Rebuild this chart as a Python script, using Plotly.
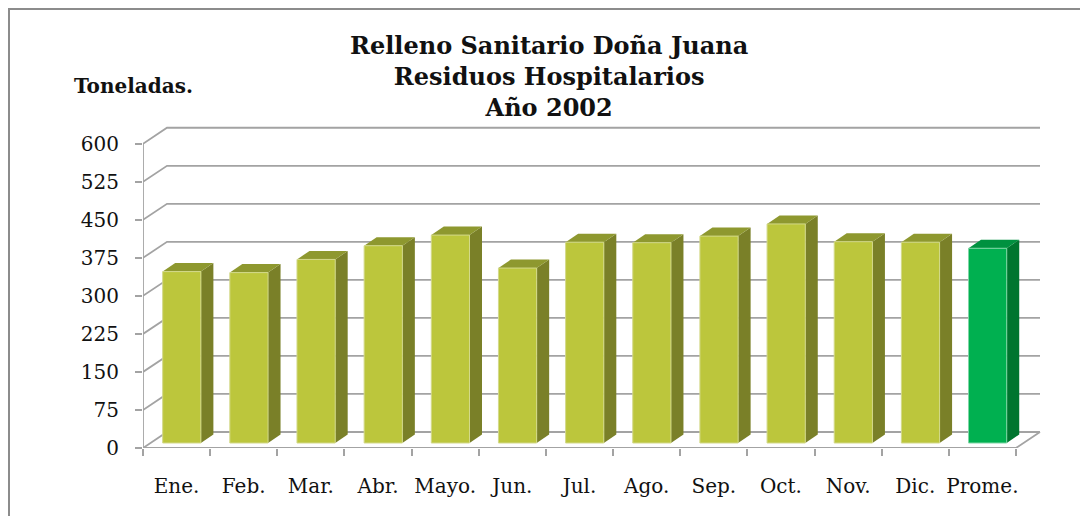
import plotly.graph_objects as go

# ---------------- data ----------------
categories = ["Ene.", "Feb.", "Mar.", "Abr.", "Mayo.", "Jun.", "Jul.",
              "Ago.", "Sep.", "Oct.", "Nov.", "Dic.", "Prome."]
values = [338, 336, 362, 389, 410, 345, 396, 395, 408, 432, 397, 396, 384]
y_ticks = [0, 75, 150, 225, 300, 375, 450, 525, 600]
title_lines = ["Relleno Sanitario Doña Juana", "Residuos Hospitalarios", "Año 2002"]
y_title = "Toneladas."

# ---------------- styles / geometry (3-D look) ----------------
OFF = 8                                        # page body margin
W, H = 1088 - OFF, 516 - OFF
PL, PR_PX, PT, PB = 143 - OFF, 1041 - OFF, 126 - OFF, 448 - OFF
N = len(categories)
YMAX = 635.0
CW = (1016 - 143) / N                          # px per category
PY = (PB - PT) / YMAX                          # px per value unit
WDX, WDY = 24 / CW, 16 / PY                    # wall depth in data units
BX0, BW = 0.293, 0.569                         # bar front face position/width
BBASE = 5 / PY                                 # bar base lift (depth position)
BDX, BDY = 12.5 / CW, 8.5 / PY                 # bar depth
XMAX = (PR_PX - PL) / CW

GRID = "#a3a3a3"
olive = dict(front="#bcc63c", side="#7a8028", top="#8e982f", edge="#d3d98a")
green = dict(front="#00b050", side="#00752f", top="#009140", edge="#7fd6a6")
palettes = [olive] * (N - 1) + [green]
FONT = "DejaVu Serif"


def px_x(p):
    return (p - OFF - PL) / (PR_PX - PL)


def px_y(p):
    return (PB - (p - OFF)) / (PB - PT)


fig = go.Figure()


def poly(xs, ys, fill, line_color=None, lw=0):
    fig.add_trace(go.Scatter(
        x=list(xs) + [xs[0]], y=list(ys) + [ys[0]], mode="lines",
        fill="toself", fillcolor=fill,
        line=dict(color=line_color or fill, width=lw),
        hoverinfo="skip", showlegend=False))


def seg(xs, ys, color=GRID, w=1.8):
    fig.add_trace(go.Scatter(x=xs, y=ys, mode="lines",
                             line=dict(color=color, width=w),
                             hoverinfo="skip", showlegend=False))


# gridlines: left wall diagonal + back wall horizontal
for v in y_ticks:
    seg([0, WDX, N + WDX], [v, v + WDY, v + WDY])
# floor front edge and right edge
seg([0, N, N + WDX], [0, 0, WDY])
# vertical value axis line
seg([0, 0], [0, y_ticks[-1]])

# bars
for i, (v, pal) in enumerate(zip(values, palettes)):
    x0 = i + BX0
    x1 = x0 + BW
    b = BBASE
    t = BBASE + v
    poly([x1, x1 + BDX, x1 + BDX, x1], [b, b + BDY, t + BDY, t], pal["side"])
    poly([x0, x1, x1 + BDX, x0 + BDX], [t, t, t + BDY, t + BDY], pal["top"])
    poly([x0, x1, x1, x0], [b, b, t, t], pal["front"], pal["edge"], 1)

fig.update_layout(
    width=W, height=H,
    margin=dict(l=PL, r=W - PR_PX, t=PT, b=H - PB, pad=0),
    plot_bgcolor="white", paper_bgcolor="white",
    xaxis=dict(range=[0, XMAX], showgrid=False, zeroline=False, showline=False,
               tickmode="array", tickvals=[i + 0.5 for i in range(N)],
               ticktext=categories, ticks="",
               tickfont=dict(family=FONT, size=20, color="#111"),
               ticklabelstandoff=24,
               minor=dict(tickmode="array", tickvals=list(range(N + 1)),
                          ticks="outside", ticklen=7, tickwidth=1.8,
                          tickcolor=GRID, showgrid=False),
               fixedrange=True),
    yaxis=dict(range=[0, YMAX], showgrid=False, zeroline=False, showline=False,
               tickmode="array", tickvals=y_ticks, ticks="outside",
               ticklen=7, tickwidth=1.8, tickcolor=GRID,
               tickfont=dict(family=FONT, size=20, color="#111"),
               ticklabelstandoff=12, fixedrange=True),
    shapes=[dict(type="rect", xref="paper", yref="paper",
                 x0=px_x(9), x1=1.2, y0=-0.5, y1=px_y(9),
                 line=dict(color="#8c8c8c", width=2), layer="below")],
    annotations=[
        dict(text="<br>".join("<b>" + s + "</b>" for s in title_lines),
             xref="paper", yref="paper",
             x=px_x(549), y=px_y(76),
             xanchor="center", yanchor="middle", showarrow=False,
             font=dict(family=FONT, size=24, color="#111")),
        dict(text="<b>" + y_title + "</b>", xref="paper", yref="paper",
             x=px_x(133), y=px_y(86),
             xanchor="center", yanchor="middle", showarrow=False,
             font=dict(family=FONT, size=20, color="#111")),
    ],
)

fig.write_html("out.html")
